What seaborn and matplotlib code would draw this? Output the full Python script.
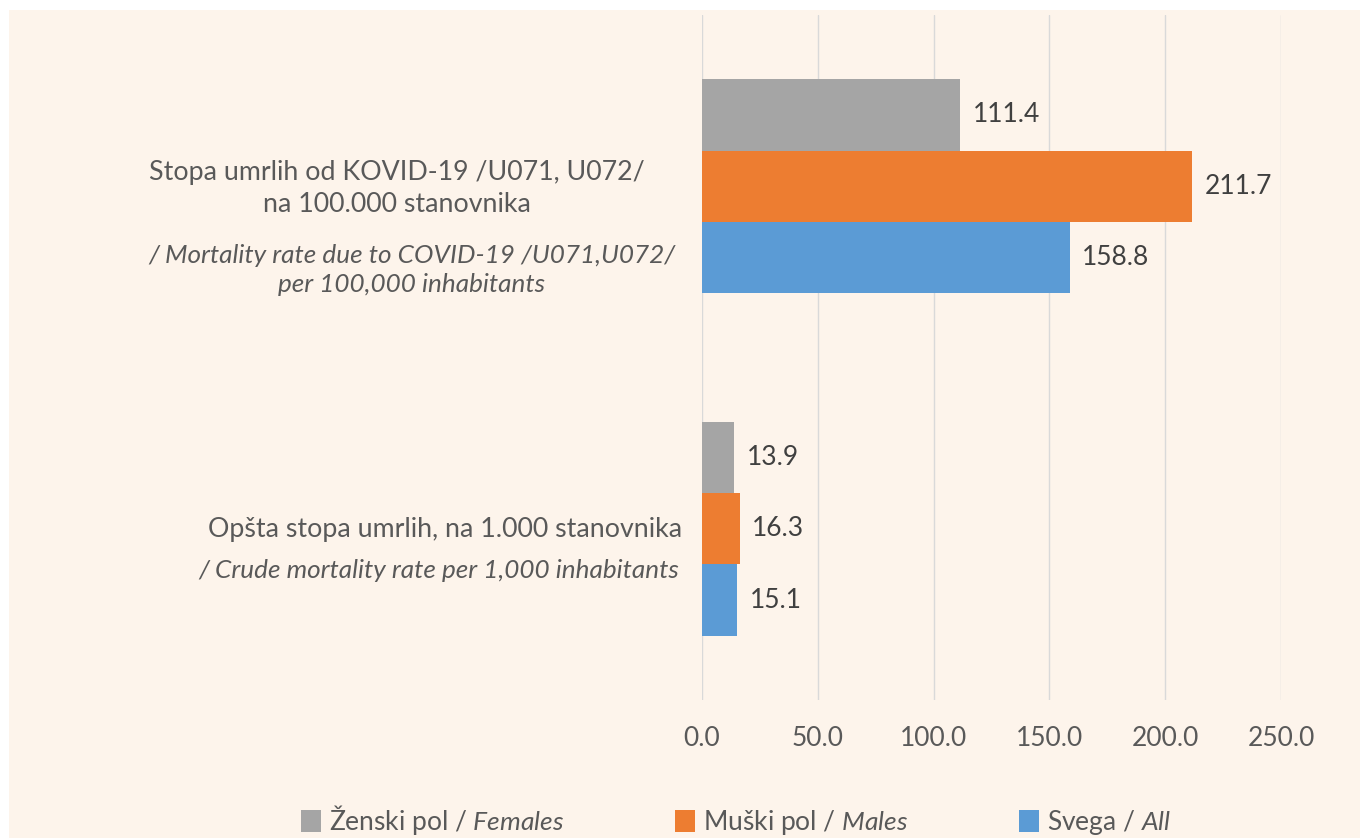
import matplotlib
matplotlib.use("Agg")
import matplotlib.pyplot as plt
import matplotlib.transforms as mtransforms
from matplotlib.patches import Rectangle
import seaborn as sns
import pandas as pd

# ---- data ----
categories = ["covid", "crude"]
series = ["Ženski pol", "Muški pol", "Svega"]
females = [111.4, 13.9]
males = [211.7, 16.3]
total = [158.8, 15.1]
xticks = [0, 50, 100, 150, 200, 250]
legend_labels = [r"Ženski pol / $\mathit{Females}$",
                 r"Muški pol / $\mathit{Males}$",
                 r"Svega / $\mathit{All}$"]
cat_main = ["Stopa umrlih od KOVID-19 /U071, U072/\nna 100.000 stanovnika",
            "Opšta stopa umrlih, na 1.000 stanovnika"]
cat_en = ["/ Mortality rate due to COVID-19 /U071,U072/\nper 100,000 inhabitants",
          "/ Crude mortality rate per 1,000 inhabitants"]
colors = ["#A5A5A5", "#ED7D31", "#5B9BD5"]

rows = []
for s, vals in zip(series, [females, males, total]):
    for c, v in zip(categories, vals):
        rows.append({"category": c, "series": s, "value": v})
df = pd.DataFrame(rows)

sns.set_theme(style="white")
FONT = "Lato"
plt.rcParams["font.family"] = [FONT, "DejaVu Sans"]
plt.rcParams["mathtext.fontset"] = "custom"
plt.rcParams["mathtext.rm"] = FONT
plt.rcParams["mathtext.it"] = FONT + ":italic"

fig = plt.figure(figsize=(13.6, 8.38), dpi=100, facecolor="white")
bg = Rectangle((9 / 1360, 0), 1 - 9 / 1360, 1 - 10 / 838,
               transform=fig.transFigure, facecolor="#FDF4EB",
               edgecolor="none", zorder=-10)
fig.patches.append(bg)
ax = fig.add_axes([702 / 1360, 1 - 700 / 838, 579 / 1360, 685 / 838])
ax.set_facecolor("none")
ax.set_zorder(1)

sns.barplot(data=df, y="category", x="value", hue="series", orient="h",
            order=categories, hue_order=series, palette=colors,
            width=0.625, gap=0, saturation=1, linewidth=0, edgecolor="none",
            ax=ax, zorder=3)

for cont in ax.containers:
    ax.bar_label(cont, fmt="%.1f", padding=9, fontsize=19, color="#404040")

ax.set_xlim(0, 250)
ax.set_xticks(xticks)
ax.set_xticklabels([f"{t:.1f}" for t in xticks], fontsize=19, color="#595959")
ax.tick_params(axis="x", length=0, pad=19)
ax.tick_params(axis="y", length=0)
ax.set_yticklabels([])
ax.set_xlabel("")
ax.set_ylabel("")
ax.grid(axis="x", color="#D9D9D9", linewidth=1, zorder=0)
ax.set_axisbelow(True)
for sp in ax.spines.values():
    sp.set_visible(False)

trans = mtransforms.blended_transform_factory(ax.transAxes, ax.transData)
pxu = 343.0  # pixels per category unit
main_pos = [(397, 188.5 - 186), (445, 530 - 529)]
en_pos = [(412, 270 - 186), (439, 571 - 529)]
for i in range(len(categories)):
    x0, dy = main_pos[i]
    ax.text((x0 - 702) / 579, i + dy / pxu, cat_main[i], transform=trans,
            ha="center", va="center", fontsize=19.3, color="#595959",
            linespacing=1.35, clip_on=False)
    x1, dy1 = en_pos[i]
    ax.text((x1 - 702) / 579, i + dy1 / pxu, cat_en[i], transform=trans,
            ha="center", va="center", fontsize=18.8, color="#595959",
            style="italic", linespacing=1.3, clip_on=False)

handles, _ = ax.get_legend_handles_labels()
if ax.get_legend() is not None:
    ax.get_legend().remove()
fig.legend(handles, legend_labels, loc="center", bbox_to_anchor=(736 / 1360, 1 - 820 / 838),
           ncol=3, frameon=False, fontsize=19, handlelength=0.75, handleheight=0.9,
           handletextpad=0.3, columnspacing=4.2, labelcolor="#595959")

fig.savefig("out.png", dpi=100, facecolor="white")
